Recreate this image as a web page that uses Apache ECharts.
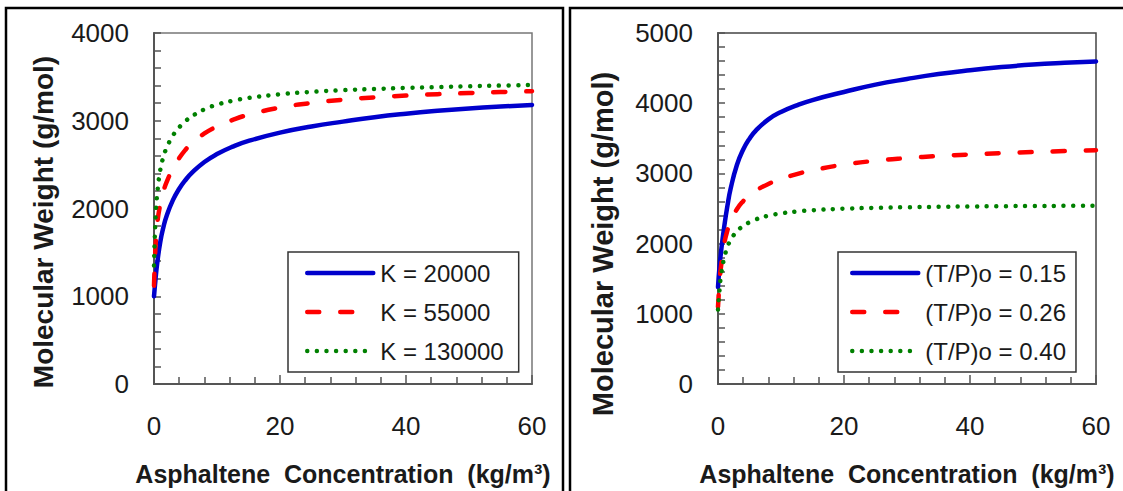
<!DOCTYPE html>
<html>
<head>
<meta charset="utf-8">
<script src="https://cdn.jsdelivr.net/npm/echarts@6/dist/echarts.min.js"></script>
<style>
  html, body { margin: 0; padding: 0; background: #fff; }
  #chart { width: 1123px; height: 491px; }
</style>
</head>
<body>
<div id="chart"></div>
<script>
// Asphaltene concentration (kg/m³) sample points shared by every curve
const concentration = [0, 0.25, 0.5, 1, 1.5, 2, 3, 4, 5, 6, 8, 10, 12.5, 15, 20, 25, 30, 35, 40, 45, 50, 55, 60];

// Left panel: molecular weight (g/mol) for three association constants K
const kNames = ['K = 20000', 'K = 55000', 'K = 130000'];
const mwK20000  = [1000, 1200, 1370, 1620, 1790, 1915, 2095, 2225, 2325, 2405, 2530, 2620, 2705, 2770, 2865, 2935, 2990, 3040, 3080, 3113, 3140, 3162, 3180];
const mwK55000  = [1120, 1580, 1820, 2050, 2195, 2300, 2455, 2575, 2670, 2745, 2855, 2935, 3010, 3068, 3150, 3203, 3240, 3267, 3287, 3303, 3316, 3327, 3337];
const mwK130000 = [1350, 1900, 2160, 2440, 2590, 2690, 2830, 2925, 2995, 3050, 3130, 3183, 3228, 3260, 3302, 3329, 3348, 3362, 3374, 3384, 3393, 3401, 3408];

// Right panel: molecular weight (g/mol) for three reduced (T/P)o values
const tpNames = ['(T/P)o = 0.15', '(T/P)o = 0.26', '(T/P)o = 0.40'];
const mwTP015 = [1380, 1680, 1900, 2250, 2540, 2780, 3120, 3340, 3495, 3610, 3770, 3875, 3970, 4045, 4160, 4265, 4345, 4415, 4470, 4515, 4550, 4575, 4595];
const mwTP026 = [1100, 1450, 1690, 2000, 2190, 2320, 2490, 2605, 2690, 2755, 2850, 2920, 2990, 3045, 3125, 3180, 3218, 3248, 3270, 3288, 3304, 3318, 3330];
const mwTP040 = [1060, 1350, 1560, 1800, 1950, 2050, 2175, 2250, 2305, 2345, 2398, 2430, 2457, 2475, 2497, 2510, 2518, 2524, 2529, 2533, 2536, 2538, 2540];

// Axis ranges and tick labels
const xTicks = [0, 20, 40, 60];
const yTicksLeft = [0, 1000, 2000, 3000, 4000];
const yTicksRight = [0, 1000, 2000, 3000, 4000, 5000];

const FONT = '"Liberation Sans", Arial, Helvetica, sans-serif';
const TEXT = '#1a1a1a';
const Y_TITLE = 'Molecular Weight (g/mol)';

function pairs(values) {
  return concentration.map((x, i) => [x, values[i]]);
}

const styles = [
  { color: '#0000CC', width: 4.5, type: 'solid' },
  { color: '#FF0000', width: 4.5, type: [12, 21] },
  { color: '#008000', width: 4.5, type: [0.01, 9.6] }
];

function makeSeries(name, values, idx, style) {
  return {
    type: 'line',
    name: name,
    xAxisIndex: idx,
    yAxisIndex: idx,
    data: pairs(values),
    showSymbol: false,
    symbol: 'none',
    smooth: 0.5,
    color: style.color,
    lineStyle: { color: style.color, width: style.width, type: style.type, cap: 'round', join: 'round' },
    emphasis: { disabled: true },
    z: 3
  };
}

function xAxis(idx) {
  return {
    type: 'value',
    gridIndex: idx,
    min: xTicks[0],
    max: xTicks[xTicks.length - 1],
    interval: xTicks[1] - xTicks[0],
    name: 'Asphaltene  Concentration  (kg/m³)',
    nameLocation: 'middle',
    nameGap: 77,
    nameTextStyle: { fontFamily: FONT, fontSize: 25, fontWeight: 'bold', color: TEXT },
    axisLine: { show: true, lineStyle: { color: '#555', width: 2 } },
    axisTick: { show: true, inside: true, length: 9, lineStyle: { color: '#555', width: 1.5 } },
    minorTick: { show: true, splitNumber: 5, length: 7, lineStyle: { color: '#555', width: 1.5 } },
    splitLine: { show: false },
    axisLabel: { fontFamily: FONT, fontSize: 26, color: TEXT, margin: 29, formatter: v => String(v) }
  };
}

function yAxis(idx, ticks) {
  return {
    type: 'value',
    gridIndex: idx,
    min: ticks[0],
    max: ticks[ticks.length - 1],
    interval: ticks[1] - ticks[0],
    axisLine: { show: true, lineStyle: { color: '#555', width: 2 } },
    axisTick: { show: true, inside: true, length: 7, lineStyle: { color: '#555', width: 1.5 } },
    minorTick: { show: true, splitNumber: 5, length: 7, lineStyle: { color: '#555', width: 1.5 } },
    splitLine: { show: false },
    axisLabel: { fontFamily: FONT, fontSize: 26, color: TEXT, margin: 25, formatter: v => String(v) }
  };
}

function legend(names, left, padding) {
  return {
    data: names,
    orient: 'vertical',
    left: left,
    top: 252,
    padding: padding,
    itemWidth: 66,
    itemHeight: 26,
    itemGap: 13,
    borderColor: '#333',
    borderWidth: 1.5,
    backgroundColor: '#fff',
    selectedMode: false,
    itemStyle: { opacity: 0 },
    lineStyle: { width: 4.5 },
    textStyle: { fontFamily: FONT, fontSize: 24, color: TEXT, padding: [0, 0, 0, 2], lineHeight: 26 }
  };
}

function yTitle(x, y, size) {
  return {
    type: 'text', silent: true, x: x, y: y, rotation: Math.PI / 2,
    style: { text: Y_TITLE, font: 'bold ' + size + 'px ' + FONT, fill: TEXT, align: 'center', verticalAlign: 'middle' }
  };
}

const chart = echarts.init(document.getElementById('chart'), null, { renderer: 'svg' });

chart.setOption({
  animation: false,
  backgroundColor: '#fff',
  grid: [
    { left: 154, top: 33, width: 378, height: 359, show: true, borderColor: '#777', borderWidth: 1.5, backgroundColor: 'transparent' },
    { left: 718, top: 33, width: 378, height: 360, show: true, borderColor: '#444', borderWidth: 1.5, backgroundColor: 'transparent' }
  ],
  xAxis: [xAxis(0), xAxis(1)],
  yAxis: [yAxis(0, yTicksLeft), yAxis(1, yTicksRight)],
  legend: [
    legend(kNames, 288, [8, 15, 8, 17]),
    legend(tpNames, 838, [8, 10, 8, 12])
  ],
  series: [
    makeSeries(kNames[0], mwK20000, 0, styles[0]),
    makeSeries(kNames[1], mwK55000, 0, styles[1]),
    makeSeries(kNames[2], mwK130000, 0, styles[2]),
    makeSeries(tpNames[0], mwTP015, 1, styles[0]),
    makeSeries(tpNames[1], mwTP026, 1, styles[1]),
    makeSeries(tpNames[2], mwTP040, 1, styles[2])
  ],
  graphic: [
    yTitle(43, 222, 28),
    yTitle(603, 244, 29),
    { type: 'rect', silent: true, z: 100, shape: { x: 6, y: 8, width: 557, height: 500 }, style: { fill: 'none', stroke: '#000', lineWidth: 2.5 } },
    { type: 'rect', silent: true, z: 100, shape: { x: 570, y: 8, width: 560, height: 500 }, style: { fill: 'none', stroke: '#000', lineWidth: 2.5 } }
  ]
});
</script>
</body>
</html>
